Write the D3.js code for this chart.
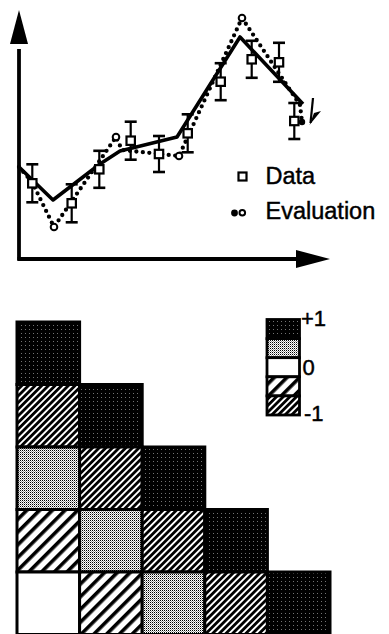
<!DOCTYPE html>
<html>
<head>
<meta charset="utf-8">
<script src="https://cdn.jsdelivr.net/npm/d3@7"></script>
<style>
  html, body { margin: 0; padding: 0; background: #fff; }
  svg { display: block; }
  text { font-family: "Liberation Sans", Arial, Helvetica, sans-serif; fill: #000; stroke: #000; stroke-width: 0.45px; }
</style>
</head>
<body>
<svg id="chart" width="389" height="634"></svg>
<script>
// ---- Profile: measured data with error bars, model fit and evaluation ----
const dataX   = [1.33, 5.27, 8.03, 11.17, 14.0, 16.87, 20.17, 23.27, 26.0, 27.53];
const dataY   = [7.57, 5.57, 8.97, 11.83, 10.5, 12.57, 17.73, 19.97, 19.67, 13.8];
const dataErr = [1.9, 1.9, 1.85, 1.9, 1.8, 1.9, 1.85, 1.85, 1.95, 1.8];

const modelX = [0, 3.4, 8.1, 10.1, 15.8, 22.1, 28.4];
const modelY = [9.2, 5.9, 9.5, 10.8, 12.2, 22.2, 15.5];

const evalX    = [0, 1.3, 3.5, 9.7, 10.3, 16.0, 22.3, 28.1, 28.3];
const evalY    = [9.2, 7.7, 3.2, 12.2, 10.9, 10.3, 24.1, 15.4, 13.7];
const evalOpen = [false, false, true, true, false, true, true, false, false];

const legendNames = ["Data", "Evaluation"];

// small hand-drawn pointer at the right end of the curves
const pointerAt = { x: 29.4, y: 16.1 };

// ---- Correlation matrix (lower triangle) ----
const factors = ["p1", "p2", "p3", "p4", "p5"];
const corr = [
  [1],
  [-1, 1],
  [0.5, -1, 1],
  [-0.5, 0.5, -1, 1],
  [0, -0.5, 0.5, -1, 1]
];
const corrLevels = [1, 0.5, 0, -0.5, -1];
const corrTickValues = [1, 0, -1];
const corrTickLabels = ["+1", "0", "-1"];

const svg = d3.select("#chart");
const defs = svg.append("defs");

// ---------------- profile panel ----------------
const x = d3.scaleLinear().domain([0, 31.1]).range([19, 330]);
const y = d3.scaleLinear().domain([0, 24.9]).range([259, 10]);

const plot = svg.append("g");

// axes with arrowheads
plot.append("line")
  .attr("x1", x(0)).attr("x2", x(0))
  .attr("y1", y(0) + 1.5).attr("y2", y(21))
  .attr("stroke", "#000").attr("stroke-width", 3.8);
plot.append("path")
  .attr("d", `M${x(0)},${y(24.9)} L${x(0) - 9},${y(21.5)} L${x(0) + 9},${y(21.5)} Z`)
  .attr("fill", "#000");
plot.append("line")
  .attr("x1", x(0) - 1.5).attr("x2", x(28))
  .attr("y1", y(0)).attr("y2", y(0))
  .attr("stroke", "#000").attr("stroke-width", 3.8);
plot.append("path")
  .attr("d", `M${x(31.1)},${y(0)} L${x(27.7)},${y(0) - 9} L${x(27.7)},${y(0) + 9} Z`)
  .attr("fill", "#000");

const line = d3.line().x(d => x(d[0])).y(d => y(d[1]));

// evaluation: dotted line
const evalPts = evalX.map((v, i) => [v, evalY[i]]);
plot.append("path")
  .attr("d", line(evalPts))
  .attr("fill", "none")
  .attr("stroke", "#000")
  .attr("stroke-width", 4.3)
  .attr("stroke-linecap", "round")
  .attr("stroke-dasharray", "0 6.5");

// model: solid line
const modelPts = modelX.map((v, i) => [v, modelY[i]]);
plot.append("path")
  .attr("d", line(modelPts))
  .attr("fill", "none")
  .attr("stroke", "#000")
  .attr("stroke-width", 3.6)
  .attr("stroke-linejoin", "round");

// data error bars
const eb = plot.append("g").attr("stroke", "#000").attr("stroke-width", 2.2);
dataX.forEach((dx, i) => {
  const px = x(dx), lo = y(dataY[i] - dataErr[i]), hi = y(dataY[i] + dataErr[i]);
  eb.append("line").attr("x1", px).attr("x2", px).attr("y1", lo).attr("y2", hi);
  eb.append("line").attr("x1", px - 6).attr("x2", px + 6).attr("y1", lo).attr("y2", lo).attr("stroke-width", 2.6);
  eb.append("line").attr("x1", px - 6).attr("x2", px + 6).attr("y1", hi).attr("y2", hi).attr("stroke-width", 2.6);
});

// data squares
plot.append("g").selectAll("rect")
  .data(dataX.map((v, i) => [v, dataY[i]]))
  .join("rect")
  .attr("x", d => x(d[0]) - 4.2).attr("y", d => y(d[1]) - 4.2)
  .attr("width", 8.4).attr("height", 8.4)
  .attr("fill", "#fff").attr("stroke", "#000").attr("stroke-width", 2.2);

// evaluation markers: open circles at turning points, filled dot at the end
plot.append("g").selectAll("circle")
  .data(evalPts.filter((d, i) => evalOpen[i]))
  .join("circle")
  .attr("cx", d => x(d[0])).attr("cy", d => y(d[1])).attr("r", 3.3)
  .attr("fill", "#fff").attr("stroke", "#000").attr("stroke-width", 2);
plot.append("circle")
  .attr("cx", x(evalX[evalX.length - 1])).attr("cy", y(evalY[evalY.length - 1]))
  .attr("r", 3.2).attr("fill", "#000");

// pointer mark
{
  const px = x(pointerAt.x), py = y(pointerAt.y);
  plot.append("path")
    .attr("d", `M${px},${py} L${px - 2.5},${py + 25}`)
    .attr("stroke", "#000").attr("stroke-width", 2.2).attr("fill", "none");
  plot.append("path")
    .attr("d", `M${px - 3.5},${py + 27} L${px + 8},${py + 13} L${px + 1},${py + 15} Z`)
    .attr("fill", "#000");
}

// legend
const lg = plot.append("g");
lg.append("rect").attr("x", 238.5).attr("y", 172.5).attr("width", 8).attr("height", 8)
  .attr("fill", "#fff").attr("stroke", "#000").attr("stroke-width", 2.2);
lg.append("circle").attr("cx", 234.5).attr("cy", 213).attr("r", 3.4).attr("fill", "#000");
lg.append("circle").attr("cx", 242.3).attr("cy", 212.8).attr("r", 2.8)
  .attr("fill", "#fff").attr("stroke", "#000").attr("stroke-width", 2);
lg.selectAll("text").data(legendNames).join("text")
  .attr("x", 265.5).attr("y", (d, i) => 184 + i * 35.3)
  .attr("font-size", 23.5)
  .text(d => d);

// ---------------- correlation panel ----------------
function addPattern(id, w, h, draw, transform) {
  const p = defs.append("pattern").attr("id", id)
    .attr("patternUnits", "userSpaceOnUse").attr("width", w).attr("height", h);
  if (transform) p.attr("patternTransform", transform);
  draw(p);
}
addPattern("lvDark", 4, 4, p => {
  p.append("rect").attr("width", 4).attr("height", 4).attr("fill", "#000");
  p.append("rect").attr("x", 1).attr("y", 1).attr("width", 1).attr("height", 1).attr("fill", "#fff").attr("opacity", 0.45);
});
addPattern("lvGray", 2, 2, p => {
  p.append("rect").attr("width", 2).attr("height", 2).attr("fill", "#fff");
  p.append("rect").attr("x", 0).attr("y", 0).attr("width", 1).attr("height", 1).attr("fill", "#000");
  p.append("rect").attr("x", 1).attr("y", 1).attr("width", 1).attr("height", 1).attr("fill", "#9a9a9a");
});
addPattern("lvSparse", 9, 9, p => {
  p.append("rect").attr("width", 9).attr("height", 9).attr("fill", "#fff");
  p.append("rect").attr("width", 3.6).attr("height", 9).attr("fill", "#000");
}, "rotate(45)");
addPattern("lvDense", 4.7, 4.7, p => {
  p.append("rect").attr("width", 4.7).attr("height", 4.7).attr("fill", "#fff");
  p.append("rect").attr("width", 2.8).attr("height", 4.7).attr("fill", "#000");
}, "rotate(45)");

const levelFill = d3.scaleOrdinal()
  .domain(corrLevels)
  .range(["url(#lvDark)", "url(#lvGray)", "#fff", "url(#lvSparse)", "url(#lvDense)"]);

const colScale = d3.scaleBand().domain(factors).range([17, 330]);
const rowScale = d3.scaleBand().domain(factors).range([322, 634.5]);

const cells = [];
corr.forEach((row, i) => row.forEach((v, j) => cells.push({ r: factors[i], c: factors[j], v })));

svg.append("g").selectAll("rect")
  .data(cells)
  .join("rect")
  .attr("x", d => colScale(d.c)).attr("y", d => rowScale(d.r))
  .attr("width", colScale.bandwidth()).attr("height", rowScale.bandwidth())
  .attr("fill", d => levelFill(d.v))
  .attr("stroke", "#000").attr("stroke-width", 3);

// level key
const ky = d3.scaleBand().domain(corrLevels).range([319.5, 415]);
const key = svg.append("g");
key.selectAll("rect")
  .data(corrLevels)
  .join("rect")
  .attr("x", 267).attr("y", d => ky(d))
  .attr("width", 32.5).attr("height", ky.bandwidth())
  .attr("fill", d => levelFill(d))
  .attr("stroke", "#000").attr("stroke-width", 2.8);

const kv = d3.scaleLinear().domain([1, -1]).range([319.5, 415]);
key.selectAll("text")
  .data(corrTickValues)
  .join("text")
  .attr("x", (d, i) => 301 + i * 1.5)
  .attr("y", d => d === 0 ? kv(d) + 8 : kv(d) + 6)
  .attr("font-size", 22)
  .text((d, i) => corrTickLabels[i]);
</script>
</body>
</html>
